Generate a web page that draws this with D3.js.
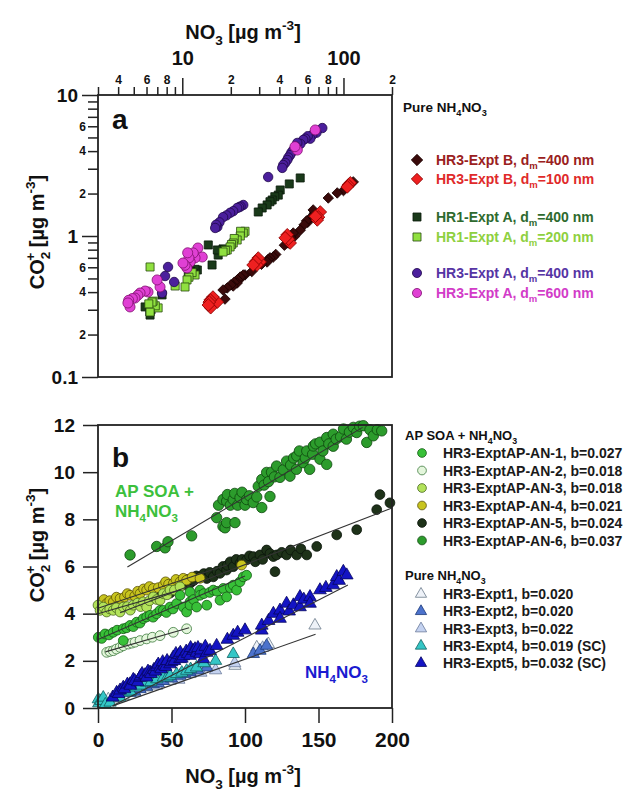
<!DOCTYPE html>
<html>
<head>
<meta charset="utf-8">
<style>
	body{ margin:0; background:white; }
	svg{ display:block; font-family:"Liberation Sans", Arial, sans-serif; font-weight:bold; }
</style>
</head>
<body>
<svg width="630" height="791"></svg>
<script src="https://cdn.jsdelivr.net/npm/d3@7"></script>
<script>
// ---------- panel a data : [NO3, CO2+] ----------
var hr3B400 = [[115,2.42],[108,2.3],[100,2.1],[91.5,2.02],[80.5,1.86],[66,1.45],[64.9,1.53],[62.2,1.34],[60,1.25],[59,1.28],[57,1.2],[53.9,1.10],[50,1.0],[48.8,1.05],[47,0.98],[45.4,0.892],[43,0.86],[38,0.74],[36.7,0.71],[35,0.70],[34,0.68],[33.6,0.654],[31,0.63],[27,0.56],[24.5,0.53],[23.9,0.529],[23,0.50],[22.9,0.512],[22,0.49],[21.9,0.464],[21,0.47],[20.7,0.442],[20,0.45],[19.0,0.428],[17.9,0.414],[18.4,0.357]];
var hr3B100 = [[110.3,2.38],[107,2.3],[105.6,2.23],[71.8,1.48],[70,1.36],[68.8,1.30],[67,1.38],[46.7,0.892],[45.5,0.95],[44.8,1.02],[43.5,0.97],[30.4,0.654],[29.6,0.698],[29.1,0.623],[28.5,0.66],[27.5,0.623],[16.5,0.34],[15.5,0.369],[15.0,0.31],[14.9,0.352],[14.7,0.34],[14.5,0.324]];
var hr1A400 = [[53.9,2.58],[46.1,2.34],[40.5,2.12],[39.4,1.95],[37.5,1.9],[36.1,1.80],[35,1.75],[33.6,1.66],[31.3,1.58],[29.6,1.48],[17.9,0.81],[16.7,0.733],[16.5,0.796],[15.3,0.623],[14.5,0.864],[12.4,0.574],[12.0,0.58],[11.7,0.546],[11.3,0.56],[10.9,0.546],[7.49,0.382],[6.4,0.30],[6.31,0.275],[5.88,0.314],[6.3,0.29]];
var hr1A200 = [[24.5,1.08],[23.9,1.05],[23,1.08],[22.9,1.0],[21.9,0.937],[21,0.96],[20.7,0.892],[20.2,0.87],[19.8,0.836],[19.0,0.796],[18.5,0.79],[17.9,0.77],[12.0,0.529],[11.5,0.55],[11.0,0.51],[10.7,0.488],[10.4,0.435],[9.03,0.442],[7.08,0.309],[6.8,0.32],[6.59,0.345],[6.49,0.34],[6.31,0.603],[6.31,0.289],[6.2,0.33]];
var hr3A400 = [[73.9,5.83],[68,5.4],[64,5.2],[62.2,4.9],[60,5.1],[58,4.9],[56.3,4.8],[54,4.5],[51.7,4.57],[50.5,4.3],[48.8,4.07],[47.5,3.9],[46.7,3.75],[45.5,3.6],[44.8,3.46],[43.5,3.3],[42.3,3.19],[41.7,3.04],[34.1,2.62],[23.9,1.66],[23.0,1.62],[22.5,1.60],[21.9,1.58],[20.7,1.50],[19.8,1.46],[18.8,1.40],[17.9,1.36],[17.0,1.25],[16.5,1.16],[16.2,1.2],[16.0,1.14],[8.16,0.603],[8.9,0.472],[7.82,0.52],[7.49,0.394]];
var hr3A600 = [[66.8,5.65],[51.7,4.07],[50,4.3],[13.3,0.71],[12.5,0.822],[12.0,0.70],[11.7,0.758],[11.2,0.654],[11.0,0.70],[10.8,0.76],[10.7,0.593],[10.4,0.62],[10.1,0.643],[7.28,0.435],[6.98,0.488],[6.13,0.401],[5.88,0.407],[5.47,0.394],[5.3,0.38],[5.09,0.363],[4.9,0.36],[4.74,0.314],[4.65,0.35],[4.6,0.335]];

// ---------- panel b data ----------
var an1 = [[0.2,3.0],[2.5,2.95],[4.8,3.14],[7.5,3.1],[10.4,3.21],[13,3.3],[17.2,3.36],[17.2,2.86],[19.5,3.4],[21.8,3.5],[24,3.45],[26.3,3.64],[28.5,3.6],[30.8,3.79],[33.1,3.86],[35.4,3.93],[37.5,3.85],[39.9,4.0],[42.2,4.14],[44.4,4.14],[46.5,4.05],[49,4.28],[51,4.2],[53.5,4.43],[55.8,4.78],[58,4.28],[60.3,4.07],[62.6,4.5],[62.6,4.92],[62.6,4.36],[65,4.6],[67.1,4.28],[69.4,5.0],[69.4,4.78],[72,4.85],[74,4.36],[76,4.9],[78.4,5.0],[81,4.95],[83,4.57],[85.2,5.07],[87.5,4.71],[90,5.1],[92,5.21],[94.3,5.0],[96.6,5.35],[98.8,5.56],[101.1,5.63]];
var an2 = [[5.9,2.36],[8,2.4],[10.4,2.43],[12.5,2.5],[15,2.57],[17.2,2.64],[20.6,2.71],[23,2.75],[25.2,2.79],[28.6,2.86],[33.1,2.93],[37,3.0],[42.2,3.07],[51.2,3.21],[60.3,3.36]];
var an3 = [[0,4.36],[1.4,4.14],[3.6,4.28],[5.9,4.07],[8,4.2],[10.4,4.14],[12.5,4.25],[15,4.07],[17.2,4.28],[20,4.3],[22,4.15],[24,4.36],[27,4.45],[29,4.3],[30.8,4.5],[33.1,4.28],[35,4.55],[37.6,4.71],[40,4.6],[42.2,4.57],[44.4,4.85],[47,4.8],[49,5.0],[52,5.0],[55.8,5.14]];
var an4 = [[1.4,4.36],[2.5,4.5],[4,4.6],[5.9,4.43],[8,4.55],[10.4,4.5],[12.5,4.7],[15,4.64],[18,4.7],[20,4.85],[21.8,4.78],[25,4.75],[27,4.95],[28.6,4.85],[31,5.05],[33.1,5.0],[35,5.15],[37.6,5.07],[41,5.1],[44.4,5.21],[46,5.35],[48,5.25],[51.2,5.28],[53,5.45],[55.8,5.35],[58,5.5],[60.3,5.42],[64,5.55],[69.4,5.5],[97.7,6.06]];
var an5 = [[42,4.71],[45,4.9],[49,4.87],[49,5.07],[51,5.25],[53.5,5.14],[56,5.35],[58,5.21],[60,5.45],[62.6,5.28],[65,5.4],[67,5.6],[69.4,5.56],[72,5.7],[74,5.49],[76,5.75],[78.4,5.56],[81,5.8],[83,5.71],[85,6.0],[87.5,5.85],[88,6.05],[90,6.2],[92,5.99],[94,6.3],[96.6,6.14],[98,6.3],[101.1,6.28],[103,6.45],[105.7,6.42],[107,6.2],[110.2,6.49],[112,6.3],[114.7,6.7],[117,6.55],[119.3,6.42],[120.4,5.78],[121.5,6.49],[125,6.6],[128.3,6.49],[131,6.7],[135.2,6.49],[138,6.75],[142,6.49],[148.8,6.85],[162.4,7.34],[176,7.56],[189.6,8.41],[191.8,9.05],[198.6,8.7]];
var an6 = [[21.8,6.49],[39.9,6.85],[45.6,6.79],[47.6,7.05],[63.7,7.30],[80.7,8.07],[85,7.7],[86.4,7.64],[87.5,7.86],[93.2,7.86],[82,8.6],[85,8.84],[87.5,8.77],[88,9.05],[90,8.6],[92,8.84],[93,9.1],[95,8.6],[96.6,8.92],[98,9.15],[100,8.6],[101.1,8.84],[103,9.0],[105.6,8.71],[108,8.95],[111.4,8.50],[117,8.97],[109,9.4],[111.4,9.69],[113,9.45],[114.7,9.99],[116,9.6],[118,10.0],[120,9.8],[121.5,10.26],[123.8,9.78],[126,10.1],[128.3,10.47],[130.6,9.83],[131,10.3],[133,10.6],[135,10.12],[135.2,10.69],[137,10.9],[139.5,10.4],[141,10.6],[142,10.9],[144,10.12],[146,10.76],[146.5,11.11],[148,11.2],[151,11.27],[151,10.55],[153,10.9],[155.6,11.47],[155.6,10.33],[157,11.2],[160,11.61],[160,11.1],[162,11.4],[165,11.5],[167,11.83],[169,11.4],[171,11.7],[173.7,11.9],[176,11.68],[178,11.95],[180.5,11.97],[182.8,11.26],[185,11.8],[187.3,11.54],[190,11.8],[193,11.75]];
var ex1 = [[7,0.37],[17.2,0.51],[33.1,0.87],[49,1.15],[62.6,1.44],[78.4,1.72],[93.2,1.79],[108,2.57],[115.9,2.71],[147.6,3.5]];
var ex2 = [[21.8,0.65],[25,0.7],[28.6,0.8],[33,0.9],[37.6,1.01],[41,1.05],[44.4,1.15],[50,1.25],[55.8,1.37],[59,1.45],[62.6,1.51],[68,1.6],[74,1.72],[105.7,2.29],[110.2,2.43],[114.7,2.64]];
var ex3 = [[3,0.25],[12,0.4],[25,0.65],[40,0.95],[55,1.2],[70,1.5],[80,1.6],[93,1.9],[112,2.55]];
var ex4 = [[0.2,0.37],[0.5,0.2],[2,0.3],[3.6,0.44],[5,0.15],[8.2,0.23],[15,0.44],[19.5,0.65],[22,0.7],[26,0.87],[29,0.95],[33,1.08],[36,1.1],[40,1.22],[44.4,1.29],[47,1.3],[49,1.37],[53.5,1.44],[57,1.5],[60.3,1.58],[63,1.65],[67,1.72],[72,1.9],[80,2.0],[92,2.29]];
var ex5 = [[10,0.45],[12.7,0.65],[14,0.6],[15,0.75],[17.2,0.87],[18,0.8],[20,1.0],[21.8,1.01],[22,0.95],[24,1.2],[25,1.15],[27,1.1],[28.6,1.29],[29,1.35],[30,1.45],[32,1.4],[33,1.3],[34,1.55],[35.4,1.51],[36,1.45],[38,1.62],[39,1.55],[40,1.75],[41,1.85],[42.2,1.72],[43,1.65],[44,1.95],[45,1.8],[46,1.75],[47,2.0],[49,1.86],[50,1.95],[51.2,2.15],[52,2.0],[53,2.3],[55,2.25],[55.8,2.08],[56,2.35],[57,2.1],[58,2.2],[60,2.4],[61,2.3],[62.6,2.22],[63,2.55],[64.8,2.43],[66,2.5],[67,2.35],[68,2.55],[69.4,2.29],[70,2.45],[71.6,2.08],[73,2.6],[74,2.35],[76.2,2.43],[80.7,2.64],[88,2.9],[92,3.07],[95,3.2],[100,3.3],[111.4,3.29],[111.4,3.5],[116,3.7],[119.3,4.0],[123.8,4.14],[123.8,3.79],[128.3,4.43],[130,4.1],[132.9,4.36],[137.4,4.71],[137.4,4.28],[140,4.6],[144.2,4.71],[144.2,4.43],[151,5.0],[155,5.1],[160,5.21],[162.4,5.56],[164,5.4],[166.9,5.78],[169.2,5.63]];

// fit lines : intercept, slope, x range (lines hidden under the clouds are not drawn)
var fitKeys      = ["an1","an2","an3","an4","an5","an6","ex3","ex5"];
var fitIntercept = {an1:2.9, an2:2.29, an3:4.0, an4:4.23, an5:3.68, an6:5.24, ex3:-0.13, ex5:-0.22};
var fitSlope     = {an1:0.027, an2:0.018, an3:0.018, an4:0.021, an5:0.024, an6:0.037, ex3:0.022, ex5:0.032};
var fitRange     = {an1:[0,100], an2:[5,62], an3:[0,56], an4:[0,88], an5:[15,200], an6:[20,180], ex3:[10,148], ex5:[10,170]};

var topMinorTicks = [3,4,5,6,7,8,9,20,30,40,50,60,70,80,90,200];
var topMajorTicks = [10,100];
var logMinorTicks = [0.2,0.3,0.4,0.5,0.6,0.7,0.8,0.9,2,3,4,5,6,7,8,9];
var logMajorTicks = [0.1,1,10];
var linYTicks = [0,2,4,6,8,10,12];
var linXTicks = [0,50,100,150,200];

var svg = d3.select("svg");
var F = '"Liberation Sans", Arial, sans-serif';

// rich text helper: parts = [[text, "n"|"sub"|"sup", dx]]
function rich(t, parts, size){
	var shift = 0;
	parts.forEach(function(p){
		var target = p[1]==="sub" ? size*0.3 : p[1]==="sup" ? -size*0.45 : 0;
		var ts = t.append("tspan").attr("dy", target-shift)
			.style("font-size", (p[1]==="n" ? size : size*0.68)+"px").text(p[0]);
		if(p[2]) ts.attr("dx", p[2]);
		shift = target;
	});
	return t;
}

// ================= PANEL A =================
var xa = d3.scaleLog().domain([3,200]).range([98,392]);
var ya = d3.scaleLog().domain([0.1,10]).range([377,95]);

var ga = svg.append("g");
ga.append("rect").attr("x",98).attr("y",95).attr("width",294).attr("height",282)
	.attr("fill","none").attr("stroke","#222").attr("stroke-width",1.8);

// top axis
var topMinor = ga.append("g").attr("transform","translate(0,95)")
	.call(d3.axisTop(xa).tickValues(topMinorTicks).tickSize(8).tickPadding(3)
		.tickFormat(function(d){ var s=String(d)[0]; return (s==="3"||s==="5"||s==="7"||s==="9") ? "" : s; }));
topMinor.selectAll("text").style("font-size","12px");
var topMajor = ga.append("g").attr("transform","translate(0,95)")
	.call(d3.axisTop(xa).tickValues(topMajorTicks).tickSize(17).tickPadding(13).tickFormat(d3.format("d")));
topMajor.selectAll("text").style("font-size","20px");

// left axis
var leftMinor = ga.append("g").attr("transform","translate(98,0)")
	.call(d3.axisLeft(ya).tickValues(logMinorTicks).tickSize(10).tickPadding(2)
		.tickFormat(function(d){ var s=d<1 ? String(Math.round(d*10)) : String(d); return (s==="2"||s==="4"||s==="6") ? s : ""; }));
leftMinor.selectAll("text").style("font-size","12px");
var leftMajor = ga.append("g").attr("transform","translate(98,0)")
	.call(d3.axisLeft(ya).tickValues(logMajorTicks).tickSize(16).tickPadding(4).tickFormat(function(d){ return String(d); }));
leftMajor.selectAll("text").style("font-size","19px");

[topMinor, topMajor, leftMinor, leftMajor].forEach(function(a){
	a.select(".domain").remove();
	a.selectAll("line").attr("stroke","#222").attr("stroke-width",1.5);
	a.selectAll("text").attr("fill","#111").style("font-family",F).style("font-weight","bold");
});

// series a
var seriesA = [
	{data:hr3B400, sym:d3.symbolSquare, size:55, rot:45, fill:"#3a0a0a", edge:"#1a0000", text:"#9a2020", lab:[["HR3-Expt B, d","n"],["m","sub"],["=400 nm","n"]]},
	{data:hr3B100, sym:d3.symbolSquare, size:80, rot:45, fill:"#ee2020", edge:"#8a0000", text:"#e02a2a", lab:[["HR3-Expt B, d","n"],["m","sub"],["=100 nm","n"]]},
	{data:hr1A400, sym:d3.symbolSquare, size:65, rot:0, fill:"#1a3a1a", edge:"#0a1a0a", text:"#2e6a2e", lab:[["HR1-Expt A, d","n"],["m","sub"],["=400 nm","n"]]},
	{data:hr1A200, sym:d3.symbolSquare, size:65, rot:0, fill:"#90e040", edge:"#2a4a10", text:"#8ed040", lab:[["HR1-Expt A, d","n"],["m","sub"],["=200 nm","n"]]},
	{data:hr3A400, sym:d3.symbolCircle, size:70, rot:0, fill:"#4b1f9c", edge:"#20084a", text:"#5634a4", lab:[["HR3-Expt A, d","n"],["m","sub"],["=400 nm","n"]]},
	{data:hr3A600, sym:d3.symbolCircle, size:80, rot:0, fill:"#e040d4", edge:"#801070", text:"#d23cc8", lab:[["HR3-Expt A, d","n"],["m","sub"],["=600 nm","n"]]}
];
var legRowsA = [160,179,217,237,273,293];

seriesA.forEach(function(s, i){
	ga.append("g").selectAll("path").data(s.data).enter().append("path")
		.attr("d", d3.symbol().type(s.sym).size(s.size))
		.attr("transform", function(d){ return "translate("+xa(d[0])+","+ya(d[1])+") rotate("+s.rot+")"; })
		.attr("fill", s.fill).attr("stroke", s.edge).attr("stroke-width",0.8);
	ga.append("path").attr("d", d3.symbol().type(s.sym).size(65))
		.attr("transform","translate(417,"+legRowsA[i]+") rotate("+s.rot+")")
		.attr("fill", s.fill).attr("stroke", s.edge).attr("stroke-width",0.8);
	rich(ga.append("text").attr("x",436).attr("y",legRowsA[i]+5).attr("fill",s.text), s.lab, 14);
});
rich(ga.append("text").attr("x",403).attr("y",112).attr("fill","#111"),
	[["Pure NH","n"],["4","sub"],["NO","n"],["3","sub"]], 13.5);
ga.append("text").attr("x",112).attr("y",129).style("font-size","28px").attr("fill","#111").text("a");

// axis titles a
rich(svg.append("text").attr("x",243).attr("y",39).attr("text-anchor","middle").attr("fill","#111"),
	[["NO","n"],["3","sub"],[" [µg m","n"],["-3","sup"],["]","n"]], 20);
rich(svg.append("text").attr("transform","translate(44,232) rotate(-90)").attr("text-anchor","middle").attr("fill","#111"),
	[["CO","n"],["2","sub"],["+","sup",-9],["  [µg m","n"],["-3","sup"],["]","n"]], 20);

// ================= PANEL B =================
var xb = d3.scaleLinear().domain([0,200]).range([98,392]);
var yb = d3.scaleLinear().domain([0,12]).range([708,425]);
var gb = svg.append("g");

var seriesB = [
	{key:"an5", data:an5, sym:d3.symbolCircle, size:75, fill:"#1e3219", edge:"#0a140a", lab:"HR3-ExptAP-AN-5, b=0.024"},
	{key:"an4", data:an4, sym:d3.symbolCircle, size:75, fill:"#c8c41e", edge:"#5a5008", lab:"HR3-ExptAP-AN-4, b=0.021"},
	{key:"an3", data:an3, sym:d3.symbolCircle, size:75, fill:"#b2e25a", edge:"#4a6a20", lab:"HR3-ExptAP-AN-3, b=0.018"},
	{key:"an2", data:an2, sym:d3.symbolCircle, size:75, fill:"#e4f6dc", edge:"#3c7a3c", lab:"HR3-ExptAP-AN-2, b=0.018"},
	{key:"an1", data:an1, sym:d3.symbolCircle, size:75, fill:"#38c038", edge:"#145a14", lab:"HR3-ExptAP-AN-1, b=0.027"},
	{key:"an6", data:an6, sym:d3.symbolCircle, size:85, fill:"#2c9c2c", edge:"#0e480e", lab:"HR3-ExptAP-AN-6, b=0.037"},
	{key:"ex1", data:ex1, sym:d3.symbolTriangle, size:65, fill:"#eef2f8", edge:"#6a7a8a", lab:"HR3-Expt1, b=0.020"},
	{key:"ex3", data:ex3, sym:d3.symbolTriangle, size:65, fill:"#c4d2f0", edge:"#6a7a9a", lab:"HR3-Expt3, b=0.022"},
	{key:"ex2", data:ex2, sym:d3.symbolTriangle, size:65, fill:"#4c72cc", edge:"#1c3a7a", lab:"HR3-Expt2, b=0.020"},
	{key:"ex4", data:ex4, sym:d3.symbolTriangle, size:65, fill:"#34c6c6", edge:"#106060", lab:"HR3-Expt4, b=0.019 (SC)"},
	{key:"ex5", data:ex5, sym:d3.symbolTriangle, size:70, fill:"#1414c4", edge:"#060660", lab:"HR3-Expt5, b=0.032 (SC)"}
];
var legOrder = {an1:0, an2:1, an3:2, an4:3, an5:4, an6:5, ex1:6, ex2:7, ex3:8, ex4:9, ex5:10};
var legRowsB = [453,470.5,488,505.5,523,540.5,594,611.3,628.6,645.9,663.2];

seriesB.forEach(function(s){
	gb.append("g").selectAll("path").data(s.data).enter().append("path")
		.attr("d", d3.symbol().type(s.sym).size(s.size))
		.attr("transform", function(d){ return "translate("+xb(d[0])+","+yb(d[1])+")"; })
		.attr("fill", s.fill).attr("stroke", s.edge).attr("stroke-width",0.8);
	var r = legRowsB[legOrder[s.key]];
	var mx = s.sym===d3.symbolTriangle ? 421 : 422;
	gb.append("path").attr("d", d3.symbol().type(s.sym).size(s.sym===d3.symbolTriangle ? 55 : 60))
		.attr("transform","translate("+mx+","+r+")")
		.attr("fill", s.fill).attr("stroke", s.edge).attr("stroke-width",0.8);
	gb.append("text").attr("x",443).attr("y",r+5).style("font-size","14px").attr("fill","#1a1a1a").text(s.lab);
});

// fit lines
var line = d3.line().x(function(d){ return xb(d[0]); }).y(function(d){ return yb(d[1]); });
fitKeys.forEach(function(k){
	var r = fitRange[k];
	gb.append("path").attr("d", line(r.map(function(x){ return [x, fitIntercept[k]+fitSlope[k]*x]; })))
		.attr("fill","none").attr("stroke","#333").attr("stroke-width",1.1);
});

gb.append("rect").attr("x",98).attr("y",425).attr("width",294).attr("height",283)
	.attr("fill","none").attr("stroke","#222").attr("stroke-width",1.8);

var leftB = gb.append("g").attr("transform","translate(98,0)")
	.call(d3.axisLeft(yb).tickValues(linYTicks).tickSize(15).tickPadding(8));
leftB.selectAll("text").style("font-size","19px");
var botB = gb.append("g").attr("transform","translate(0,708)")
	.call(d3.axisBottom(xb).tickValues(linXTicks).tickSize(15).tickPadding(9));
botB.selectAll("text").style("font-size","21px");
[leftB, botB].forEach(function(a){
	a.select(".domain").remove();
	a.selectAll("line").attr("stroke","#222").attr("stroke-width",1.5);
	a.selectAll("text").attr("fill","#111").style("font-family",F).style("font-weight","bold");
});

gb.append("text").attr("x",112).attr("y",467).style("font-size","28px").attr("fill","#111").text("b");
gb.append("text").attr("x",115).attr("y",497).style("font-size","17px").attr("fill","#3cc03c").text("AP SOA +");
rich(gb.append("text").attr("x",115).attr("y",517).attr("fill","#3cc03c"),
	[["NH","n"],["4","sub"],["NO","n"],["3","sub"]], 17);
rich(gb.append("text").attr("x",305).attr("y",678).attr("fill","#1a1ad0"),
	[["NH","n"],["4","sub"],["NO","n"],["3","sub"]], 17);

rich(gb.append("text").attr("x",405).attr("y",440).attr("fill","#111"),
	[["AP SOA + NH","n"],["4","sub"],["NO","n"],["3","sub"]], 13);
rich(gb.append("text").attr("x",405).attr("y",580).attr("fill","#111"),
	[["Pure NH","n"],["4","sub"],["NO","n"],["3","sub"]], 13);

// axis titles b
rich(svg.append("text").attr("x",243).attr("y",783).attr("text-anchor","middle").attr("fill","#111"),
	[["NO","n"],["3","sub"],[" [µg m","n"],["-3","sup"],["]","n"]], 20);
rich(svg.append("text").attr("transform","translate(44,545) rotate(-90)").attr("text-anchor","middle").attr("fill","#111"),
	[["CO","n"],["2","sub"],["+","sup",-9],["  [µg m","n"],["-3","sup"],["]","n"]], 20);
</script>
</body>
</html>
